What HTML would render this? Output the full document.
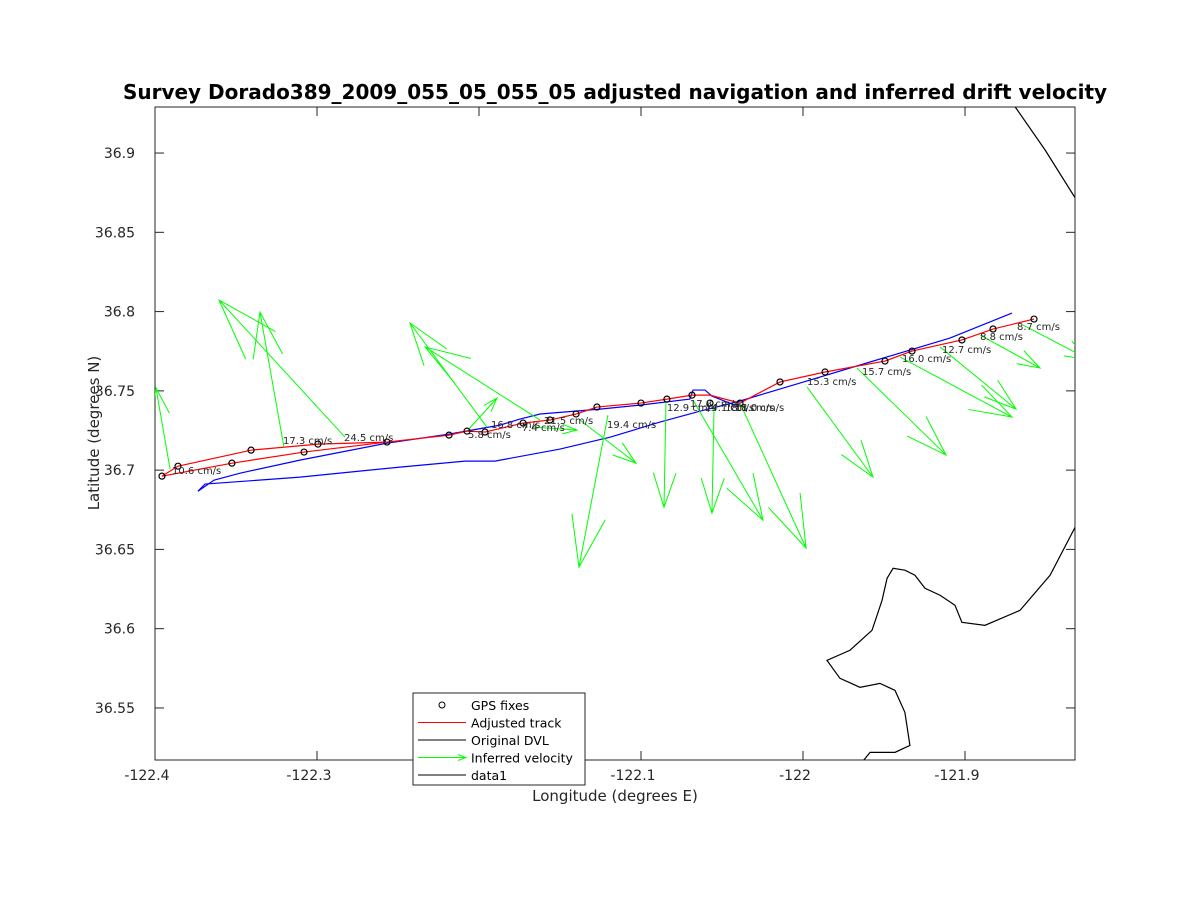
<!DOCTYPE html>
<html><head><meta charset="utf-8"><style>
body{margin:0;background:#fff;}
svg{display:block;font-family:"DejaVu Sans","Liberation Sans",sans-serif;}
</style></head><body>
<svg id="chart" width="1188" height="900"></svg>
<script>
const xTicks=[-122.4,-122.3,-122.2,-122.1,-122,-121.9];
const xTickLabels=["-122.4","-122.3","-122.2","-122.1","-122","-121.9"];
const yTicks=[36.55,36.6,36.65,36.7,36.75,36.8,36.85,36.9];
const yTickLabels=["36.55","36.6","36.65","36.7","36.75","36.8","36.85","36.9"];
const gpsLon=[-122.3957,-122.3858,-122.3525,-122.3407,-122.308,-122.2994,-122.2568,-122.2185,-122.2074,-122.1963,-122.1728,-122.1562,-122.1401,-122.1272,-122.1,-122.084,-122.0685,-122.0574,-122.0389,-122.0142,-121.9864,-121.9494,-121.9327,-121.9019,-121.8827,-121.8574];
const gpsLat=[36.6962,36.7025,36.7044,36.7126,36.7114,36.7164,36.7177,36.7221,36.7246,36.724,36.7297,36.7316,36.7354,36.7398,36.7423,36.7448,36.7473,36.7423,36.7423,36.7556,36.7619,36.7688,36.7751,36.7821,36.789,36.7953];
const trackLon=[-122.3957,-122.3858,-122.3407,-122.2994,-122.2568,-122.2185,-122.2074,-122.1963,-122.1728,-122.1562,-122.1401,-122.1272,-122.1,-122.084,-122.0685,-122.0574,-122.0389,-122.0142,-121.9864,-121.9494,-121.9327,-121.9019,-121.8827,-121.8574];
const trackLat=[36.6962,36.7025,36.7126,36.7164,36.7177,36.7221,36.7246,36.724,36.7297,36.7316,36.7354,36.7398,36.7423,36.7448,36.7473,36.7473,36.7423,36.7556,36.7619,36.7688,36.7751,36.7821,36.789,36.7953];
const track2Lon=[-122.3957,-122.3525,-122.308,-122.2568];
const track2Lat=[36.6962,36.7044,36.7114,36.7177];
const dvlLon=[-122.3735,-122.3691,-122.3105,-122.2488,-122.2086,-122.1901,-122.15,-122.1191,-122.0883,-122.0636,-122.0389,-122.0019,-121.9586,-121.9093,-121.871];
const dvlLat=[36.6867,36.6912,36.6956,36.7019,36.7057,36.7057,36.7133,36.7208,36.7303,36.7372,36.7436,36.7549,36.7682,36.7833,36.7991];
const dvl2Lon=[-122.3735,-122.3636,-122.3475,-122.3105,-122.2568,-122.2185,-122.187,-122.1747,-122.1623,-122.1253,-122.1006,-122.0698,-122.0679,-122.0605,-122.0562,-122.042,-122.0389];
const dvl2Lat=[36.6867,36.6937,36.6981,36.7063,36.717,36.7227,36.7284,36.7322,36.7354,36.7385,36.741,36.7448,36.7505,36.7505,36.7467,36.741,36.7417];
const arrStartLon=[-122.3907,-122.3204,-122.2827,-122.1951,-122.1623,-122.2068,-122.1667,-122.1204,-122.1377,-122.0846,-122.0549,-122.0679,-122.0389,-121.9975,-121.9667,-121.9401,-121.9154,-121.8907,-121.8642];
const arrStartLat=[36.7006,36.7145,36.7208,36.7271,36.7316,36.7253,36.7271,36.7347,36.7316,36.7423,36.7398,36.7442,36.7423,36.7524,36.7644,36.7713,36.7777,36.7852,36.7915];
const arrEndLon=[-122.3994,-122.3352,-122.3605,-122.2426,-122.2333,-122.1889,-122.1395,-122.1383,-122.1031,-122.0858,-122.0562,-122.0247,-121.9981,-121.9568,-121.9117,-121.871,-121.8685,-121.8537,-121.8228];
const arrEndLat=[36.7518,36.7997,36.8073,36.7928,36.7777,36.7455,36.7253,36.6388,36.7044,36.6766,36.6729,36.6684,36.6508,36.6956,36.7095,36.7335,36.7385,36.7644,36.7694];
const velLabels=["10.6 cm/s","17.3 cm/s","24.5 cm/s","5.8 cm/s","16.8 cm/s","7.4 cm/s","21.5 cm/s","19.4 cm/s","12.9 cm/s","17.8 cm/s","14.1 cm/s","18.8 cm/s","11.0 cm/s","15.3 cm/s","15.7 cm/s","16.0 cm/s","12.7 cm/s","8.8 cm/s","8.7 cm/s"];
const labelLon=[-122.3895,-122.321,-122.2833,-122.2068,-122.1926,-122.1735,-122.1599,-122.121,-122.084,-122.0698,-122.0605,-122.0481,-122.042,-121.9975,-121.9636,-121.9389,-121.9142,-121.8907,-121.8679];
const labelLat=[36.6975,36.7164,36.7183,36.7202,36.7265,36.7246,36.729,36.7265,36.7372,36.7398,36.7372,36.7372,36.7372,36.7537,36.76,36.7682,36.7739,36.7821,36.7884];
const coast1Lon=[-121.8691,-121.8506,-121.832];
const coast1Lat=[36.9292,36.902,36.8717];
const coast2Lon=[-121.832,-121.8475,-121.866,-121.8877,-121.9019,-121.9062,-121.9154,-121.9247,-121.9309,-121.9371,-121.9444,-121.9481,-121.9512,-121.9574,-121.971,-121.9852,-121.9772,-121.9648,-121.9525,-121.9432,-121.9371,-121.934,-121.9432,-121.9586,-121.9636];
const coast2Lat=[36.664,36.6337,36.6116,36.6021,36.604,36.6148,36.6211,36.6255,36.6337,36.6369,36.6381,36.6318,36.6179,36.599,36.5864,36.58,36.5687,36.563,36.5655,36.5611,36.5472,36.5264,36.522,36.522,36.5157];

const L=155,R=1075,T=107,B=760;
const xmin=-122.4,xmax=-122.4+(R-L)/1620,ymin=36.55-(B-708)/1584,ymax=36.9+(153-T)/1584;
const sx=v=>L+(v-xmin)/(xmax-xmin)*(R-L);
const sy=v=>B-(v-ymin)/(ymax-ymin)*(B-T);
const NS="http://www.w3.org/2000/svg";
const svg=document.getElementById('chart');
function mk(tag,attrs,parent){const e=document.createElementNS(NS,tag);for(const k in attrs)e.setAttribute(k,attrs[k]);(parent||svg).appendChild(e);return e;}

const defs=mk('defs',{});
const cp=mk('clipPath',{id:'clip'},defs);
mk('rect',{x:L,y:T,width:R-L,height:B-T},cp);

const frame=mk('rect',{x:L,y:T,width:R-L,height:B-T,fill:'#fff',stroke:'#262626','stroke-width':1});



const title=mk('text',{x:615,y:99,'text-anchor':'middle','font-size':20,'font-weight':'bold',fill:'#000'});
title.textContent='Survey Dorado389_2009_055_05_055_05 adjusted navigation and inferred drift velocity';



xTicks.forEach((t,i)=>{
  const x=sx(t);
  mk('line',{x1:x,x2:x,y1:B,y2:B-9,stroke:'#262626'});
  mk('line',{x1:x,x2:x,y1:T,y2:T+9,stroke:'#262626'});
  const tx=mk('text',{x:x-8,y:B+20,'text-anchor':'middle','font-size':14,fill:'#262626'});
  tx.textContent=xTickLabels[i];
  
  
});
yTicks.forEach((t,i)=>{
  const y=sy(t);
  mk('line',{x1:L,x2:L+9,y1:y,y2:y,stroke:'#262626'});
  mk('line',{x1:R,x2:R-9,y1:y,y2:y,stroke:'#262626'});
  const ty=mk('text',{x:L-20,y:y+5,'text-anchor':'end','font-size':14,fill:'#262626'});
  ty.textContent=yTickLabels[i];
  
  
});
const xl=mk('text',{x:615,y:801,'text-anchor':'middle','font-size':15,fill:'#262626'});
xl.textContent='Longitude (degrees E)';


const yl=mk('text',{x:99,y:433,'text-anchor':'middle','font-size':15,fill:'#262626',transform:'rotate(-90 99 433)'});
yl.textContent='Latitude (degrees N)';



const g=mk('g',{'clip-path':'url(#clip)'});


function poly(lons,lats,color,name){
  const p=mk('polyline',{points:lons.map((v,i)=>sx(v)+','+sy(lats[i])).join(' '),fill:'none',stroke:color,'stroke-width':1.2},g);
  
  
}
poly(coast1Lon,coast1Lat,'#000','coastline-north');
poly(coast2Lon,coast2Lat,'#000','coastline-south');
poly(dvlLon,dvlLat,'#0000ff','original-dvl-track');
poly(dvl2Lon,dvl2Lat,'#0000ff','original-dvl-track-2');
poly(trackLon,trackLat,'#ff0000','adjusted-track');
poly(track2Lon,track2Lat,'#ff0000','adjusted-track-2');
arrStartLon.forEach((v,i)=>{
  const x1=sx(v),y1=sy(arrStartLat[i]),x2=sx(arrEndLon[i]),y2=sy(arrEndLat[i]);
  const dx=x2-x1,dy=y2-y1;
  const ax=x2-0.33*(dx+0.33*dy),ay=y2-0.33*(dy-0.33*dx);
  const bx=x2-0.33*(dx-0.33*dy),by=y2-0.33*(dy+0.33*dx);
  const a=mk('path',{d:`M${x1},${y1}L${x2},${y2}M${ax},${ay}L${x2},${y2}L${bx},${by}`,fill:'none',stroke:'#00ff00','stroke-width':1},g);
  
  
});
gpsLon.forEach((v,i)=>{
  const c=mk('circle',{cx:sx(v),cy:sy(gpsLat[i]),r:3,fill:'none',stroke:'#000','stroke-width':1.2},g);
  
  
});
velLabels.forEach((t,i)=>{
  const tx=mk('text',{x:sx(labelLon[i]),y:sy(labelLat[i]),'font-size':10,fill:'#262626'},g);
  tx.textContent=t;
  
  
});

const lg=mk('g',{});


mk('rect',{x:413,y:693,width:172,height:92,fill:'#fff',stroke:'#262626'},lg);
const entries=['GPS fixes','Adjusted track','Original DVL','Inferred velocity','data1'];
entries.forEach((t,i)=>{
  const y=705+i*17.5;
  if(i===0){mk('circle',{cx:442,cy:y,r:3,fill:'none',stroke:'#000'},lg);}
  else if(i===1){mk('line',{x1:418,x2:466,y1:y,y2:y,stroke:'#ff0000'},lg);}
  else if(i===3){mk('path',{d:`M418,${y}L466,${y}M458,${y-3}L466,${y}L458,${y+3}`,stroke:'#00ff00',fill:'none'},lg);}
  else {mk('line',{x1:418,x2:466,y1:y,y2:y,stroke:'#000'},lg);}
  const tx=mk('text',{x:471,y:y+5,'font-size':12.5,fill:'#000'},lg);
  tx.textContent=t;
  
  
});
</script>
</body></html>
